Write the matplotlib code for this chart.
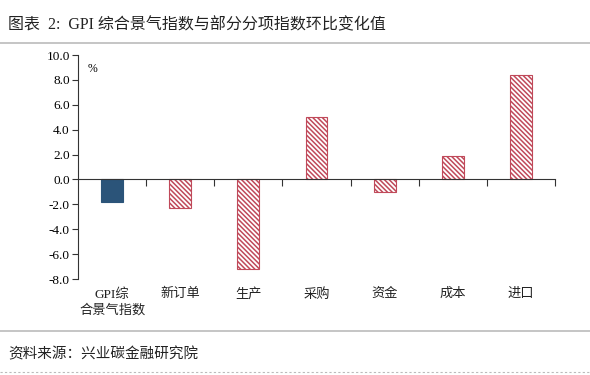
import matplotlib
matplotlib.use("Agg")
import matplotlib.pyplot as plt
from matplotlib.lines import Line2D
import matplotlib.transforms as mtransforms

plt.rcParams['font.family'] = ['Liberation Serif', 'Noto Sans CJK SC']
plt.rcParams['hatch.linewidth'] = 1.1

# ── Data ───────────────────────────────────────────────────────────────────────
categories = ["GPI综\n合景气指数", "新订单", "生产", "采购", "资金", "成本", "进口"]
values     = [-1.85, -2.28, -7.23, 5.04, -0.97, 1.85, 8.38]
yticks     = [-8, -6, -4, -2, 0, 2, 4, 6, 8, 10]

BLUE = "#2B5479"
RED  = "#C0495A"

fig = plt.figure(figsize=(5.9, 3.75), dpi=100)
ax = fig.add_axes([78/590, 1-279/375, (555-78)/590, (279-55)/375])

x = list(range(len(categories)))
w = 0.32
for i, v in enumerate(values):
    if i == 0:
        ax.bar(i, v, w, color=BLUE, edgecolor=BLUE, linewidth=0.8)
    else:
        ax.bar(i, v, w, color="white", edgecolor=RED, hatch="\\" * 7, linewidth=0.8)

ax.set_xlim(-0.5, len(categories) - 0.5)
ax.set_ylim(-8, 10)
ax.set_yticks(yticks)
ax.set_yticklabels([f"{t:.1f}" for t in yticks], fontsize=9.5)
ax.tick_params(axis="y", length=4, width=0.8, color="#333333", pad=2)

for s in ("top", "right"):
    ax.spines[s].set_visible(False)
ax.spines["left"].set_color("#333333")
ax.spines["bottom"].set_position(("data", 0))
ax.spines["bottom"].set_color("#333333")
ax.set_xticks([i + 0.5 for i in x])
ax.set_xticklabels([])
ax.tick_params(axis="x", length=5, width=0.8, color="#333333", direction="out")

trans = mtransforms.blended_transform_factory(ax.transData, ax.transAxes)
for i, lbl in enumerate(categories):
    ax.text(i, -0.04, lbl, transform=trans, ha="center", va="top",
            fontsize=9.5, color="#222222", linespacing=1.35)

ax.text(0.02, 0.965, "%", transform=ax.transAxes, fontsize=8.5, ha="left", va="top")

# ── Title / source ─────────────────────────────────────────────────────────────
fig.text(8/590, 1-25/375, "图表  2:  GPI 综合景气指数与部分分项指数环比变化值",
         fontsize=11.5, ha="left", va="center", color="#222222")
fig.add_artist(Line2D([0, 1], [1-43/375]*2, color="#BBBBBB", lw=1.2))
fig.add_artist(Line2D([0, 1], [1-331/375]*2, color="#BBBBBB", lw=1.2))
fig.add_artist(Line2D([0, 1], [1-372/375]*2, color="#BBBBBB", lw=0.8, ls=(0, (2, 2))))
fig.text(8/590, 1-354/375, "资料来源：兴业碳金融研究院",
         fontsize=10.5, ha="left", va="center", color="#222222")

fig.savefig("out.png", dpi=100)
